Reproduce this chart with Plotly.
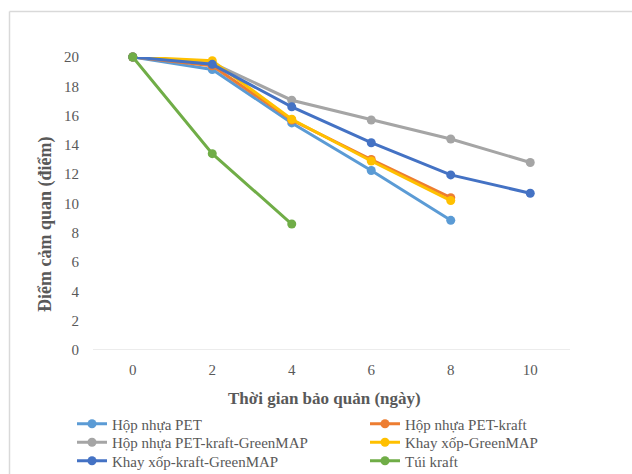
import plotly.graph_objects as go

days = [0, 2, 4, 6, 8, 10]
series_names = ["Hộp nhựa PET", "Hộp nhựa PET-kraft", "Hộp nhựa PET-kraft-GreenMAP",
                "Khay xốp-GreenMAP", "Khay xốp-kraft-GreenMAP", "Túi kraft"]
pet = [20, 19.15, 15.5, 12.25, 8.85]
pet_kraft = [20, 19.4, 15.7, 13.0, 10.4]
pet_kraft_greenmap = [20, 19.6, 17.05, 15.7, 14.4, 12.8]
khay_greenmap = [20, 19.75, 15.75, 12.9, 10.2]
khay_kraft_greenmap = [20, 19.5, 16.6, 14.15, 11.95, 10.7]
tui_kraft = [20, 13.4, 8.6]
colors = ["#5B9BD5", "#ED7D31", "#A5A5A5", "#FFC000", "#4472C4", "#70AD47"]
all_series = [pet, pet_kraft, pet_kraft_greenmap, khay_greenmap, khay_kraft_greenmap, tui_kraft]

serif = "Liberation Serif"
PL, PT, PW, PH = 93, 57, 477, 293  # plot area in pixels

def px_x(p):
    return (p - PL) / PW

def px_y(p):
    return (PT + PH - p) / PH

fig = go.Figure()
legend_layout = {}
col_x = [72, 365]
row_c = [424, 442.5, 461]
for i, (name, vals, col) in enumerate(zip(series_names, all_series, colors)):
    key = "legend" if i == 0 else f"legend{i + 1}"
    fig.add_trace(go.Scatter(
        x=days[:len(vals)], y=vals, name=name, mode="lines+markers",
        line=dict(color=col, width=3), marker=dict(color=col, size=9),
        legend=key, cliponaxis=False))
    legend_layout[key] = dict(
        orientation="v", xanchor="left", yanchor="middle",
        x=px_x(col_x[i % 2]), y=px_y(row_c[i // 2]),
        font=dict(family=serif, size=15, color="#595959"),
        tracegroupgap=0, itemwidth=30, bgcolor="rgba(0,0,0,0)")

fig.update_layout(
    width=632, height=474,
    margin=dict(l=PL, r=632 - PL - PW, t=PT, b=474 - PT - PH, autoexpand=False),
    paper_bgcolor="white", plot_bgcolor="white",
    font=dict(family=serif, color="#595959", size=15),
    showlegend=True,
    xaxis=dict(range=[-1, 11], tickvals=days, ticktext=[str(d) for d in days],
               showgrid=False, zeroline=False, showline=False, ticks="",
               ticklabelstandoff=9,
               tickfont=dict(family=serif, size=15, color="#595959")),
    yaxis=dict(range=[0, 20], tickvals=list(range(0, 21, 2)),
               showgrid=False, zeroline=False, showline=False, ticks="",
               ticklabelstandoff=13,
               tickfont=dict(family=serif, size=15, color="#595959")),
    **legend_layout,
)
fig.add_annotation(text="<b>Thời gian bảo quản (ngày)</b>", xref="paper", yref="paper",
                   x=px_x(324), y=px_y(398), xanchor="center", yanchor="middle",
                   showarrow=False,
                   font=dict(family=serif, size=17, color="#595959"))
fig.add_annotation(text="<b>Điểm cảm quan (điểm)</b>", xref="paper", yref="paper",
                   x=px_x(45), y=px_y(225), xanchor="center", yanchor="middle",
                   showarrow=False, textangle=-90,
                   font=dict(family=serif, size=18, color="#595959"))
# baseline at y=0
fig.add_shape(type="line", xref="paper", yref="y", x0=0, x1=1, y0=0, y1=0,
              line=dict(color="#D9D9D9", width=1), layer="below")
# chart frame (left and top edges visible)
fig.add_shape(type="line", xref="paper", yref="paper",
              x0=px_x(9.5), x1=px_x(9.5), y0=-0.5, y1=px_y(11.5),
              line=dict(color="#D9D9D9", width=1.5))
fig.add_shape(type="line", xref="paper", yref="paper",
              x0=px_x(9.5), x1=1.2, y0=px_y(11.5), y1=px_y(11.5),
              line=dict(color="#D9D9D9", width=1.5))

fig.write_html("out.html")
